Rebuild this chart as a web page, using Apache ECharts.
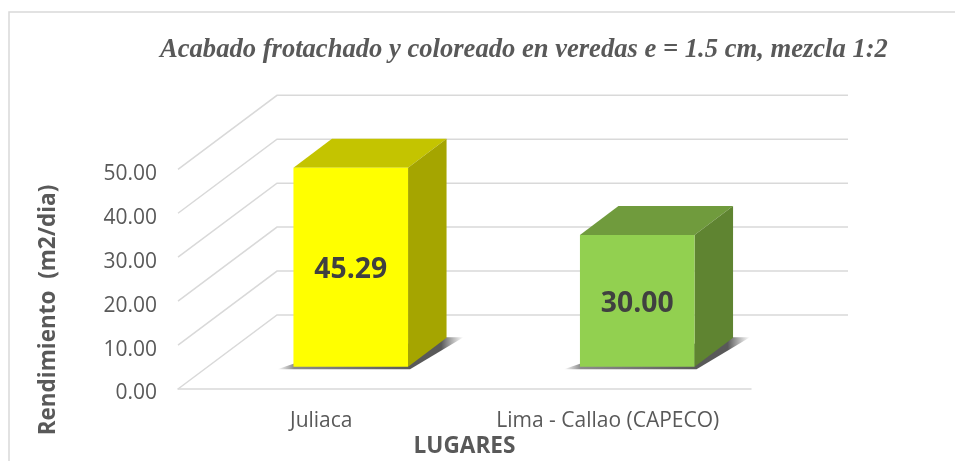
<!DOCTYPE html>
<html><head><meta charset="utf-8">
<style>html,body{margin:0;padding:0;background:#fff}#c{width:955px;height:461px}</style>
<script src="https://cdn.jsdelivr.net/npm/echarts@6/dist/echarts.min.js"></script>
</head><body><div id="c"></div>
<script>
const categories = ['Juliaca', 'Lima - Callao (CAPECO)'];
const rendimiento = [45.29, 30.00];
const tickValues = [0, 10, 20, 30, 40, 50];
const faceColors = ['#ffff00', '#92d050'];
const topColors = ['#c4c400', '#709b3d'];
const sideColors = ['#a5a500', '#5f8431'];
const titleText = 'Acabado frotachado y coloreado en veredas e = 1.5 cm, mezcla 1:2';
const yName = 'Rendimiento  (m2/dia)';
const xName = 'LUGARES';

const wallDX = 99, wallDY = 74, wallRightDX = 97;
const barFrontDX = 29.5, barFrontDY = 22.3;
const barDepthDX = 38.5, barDepthDY = 29;
const GRID = '#d9d9d9';
const sans = '"Open Sans", sans-serif';

const chart = echarts.init(document.getElementById('c'));

function renderWall(params, api) {
  const v = api.value(0);
  const cs = params.coordSys;
  const y = api.coord([0, v])[1];
  return {
    type: 'polyline',
    shape: { points: [[cs.x, y], [cs.x + wallDX, y - wallDY], [cs.x + cs.width + wallRightDX, y - wallDY]] },
    style: { stroke: GRID, lineWidth: 1.5, fill: null },
    silent: true
  };
}

function renderBar(params, api) {
  const i = api.value(0), v = api.value(1);
  const w = api.size([1, 0])[0] * 0.4;
  const base = api.coord([i, 0]);
  const top = api.coord([i, v]);
  const x0 = base[0] + barFrontDX - w / 2, x1 = x0 + w;
  const yb = base[1] - barFrontDY, yt = top[1] - barFrontDY;
  const dx = barDepthDX, dy = barDepthDY;
  const shadowFill = new echarts.graphic.LinearGradient(0, 0, 1, 0, [
    { offset: 0, color: 'rgba(90,90,90,0)' },
    { offset: 0.09, color: 'rgba(90,90,90,0.7)' },
    { offset: 0.72, color: 'rgba(60,60,60,0.85)' },
    { offset: 0.88, color: 'rgba(60,60,60,0.85)' },
    { offset: 1, color: 'rgba(90,90,90,0)' }
  ]);
  return {
    type: 'group',
    children: [
      { type: 'polygon', shape: { points: [[x0 - 16, yb + 2.5], [x1 + 2, yb + 2.5], [x1 + dx + 17, yb - dy - 0.5], [x1 + dx - 2, yb - dy - 0.5], [x0, yb - 3]] }, style: { fill: shadowFill }, silent: true },
      { type: 'polygon', shape: { points: [[x0, yt], [x0 + dx, yt - dy], [x1 + dx, yt - dy], [x1, yt]] }, style: { fill: topColors[i] } },
      { type: 'polygon', shape: { points: [[x1, yt], [x1 + dx, yt - dy], [x1 + dx, yb - dy], [x1, yb]] }, style: { fill: sideColors[i] } },
      { type: 'rect', shape: { x: x0, y: yt, width: w, height: yb - yt }, style: { fill: faceColors[i] } },
      { type: 'text', x: (x0 + x1) / 2, y: (yt + yb) / 2 + 3, style: { text: v.toFixed(2), fill: '#404040', font: 'bold 28.3px ' + sans, align: 'center', verticalAlign: 'middle' } }
    ]
  };
}

chart.setOption({
  animation: false,
  backgroundColor: '#fff',
  title: {
    text: titleText, left: 155, top: 32,
    textStyle: { fontFamily: '"Liberation Serif", serif', fontStyle: 'italic', fontWeight: 'bold', fontSize: 26.6, color: '#595959' }
  },
  grid: { left: 178, right: 204, top: 169.3, bottom: 72 },
  xAxis: {
    type: 'category', data: categories,
    name: xName, nameLocation: 'middle', nameGap: 46,
    nameTextStyle: { fontFamily: sans, fontWeight: 'bold', fontSize: 22.6, color: '#595959' },
    axisTick: { show: false },
    axisLine: { lineStyle: { color: GRID, width: 1.5 } },
    axisLabel: { fontFamily: sans, fontSize: 21, color: '#595959', margin: 22, interval: 0, hideOverlap: false },
    splitLine: { show: false }
  },
  yAxis: {
    type: 'value', min: 0, max: 50, interval: 10,
    axisLine: { show: false }, axisTick: { show: false }, splitLine: { show: false },
    axisLabel: { fontFamily: sans, fontSize: 21, color: '#595959', margin: 21, verticalAlign: 'top', lineHeight: 9, formatter: v => v.toFixed(2) }
  },
  graphic: [
    { type: 'rect', silent: true, shape: { x: 9, y: 12, width: 1000, height: 500 }, style: { fill: 'none', stroke: GRID, lineWidth: 1.5 } },
    { type: 'text', x: 48.5, y: 310, rotation: Math.PI / 2, silent: true,
      style: { text: yName, fill: '#595959', font: 'bold 22.5px ' + sans, align: 'center', verticalAlign: 'middle' } }
  ],
  series: [
    { type: 'custom', renderItem: renderWall, data: tickValues.map(v => [v]), encode: { y: 0 }, z: 1, silent: true },
    { type: 'custom', renderItem: renderBar, data: rendimiento.map((v, i) => [i, v]), encode: { x: 0, y: 1 }, z: 3 }
  ]
});
</script></body></html>
